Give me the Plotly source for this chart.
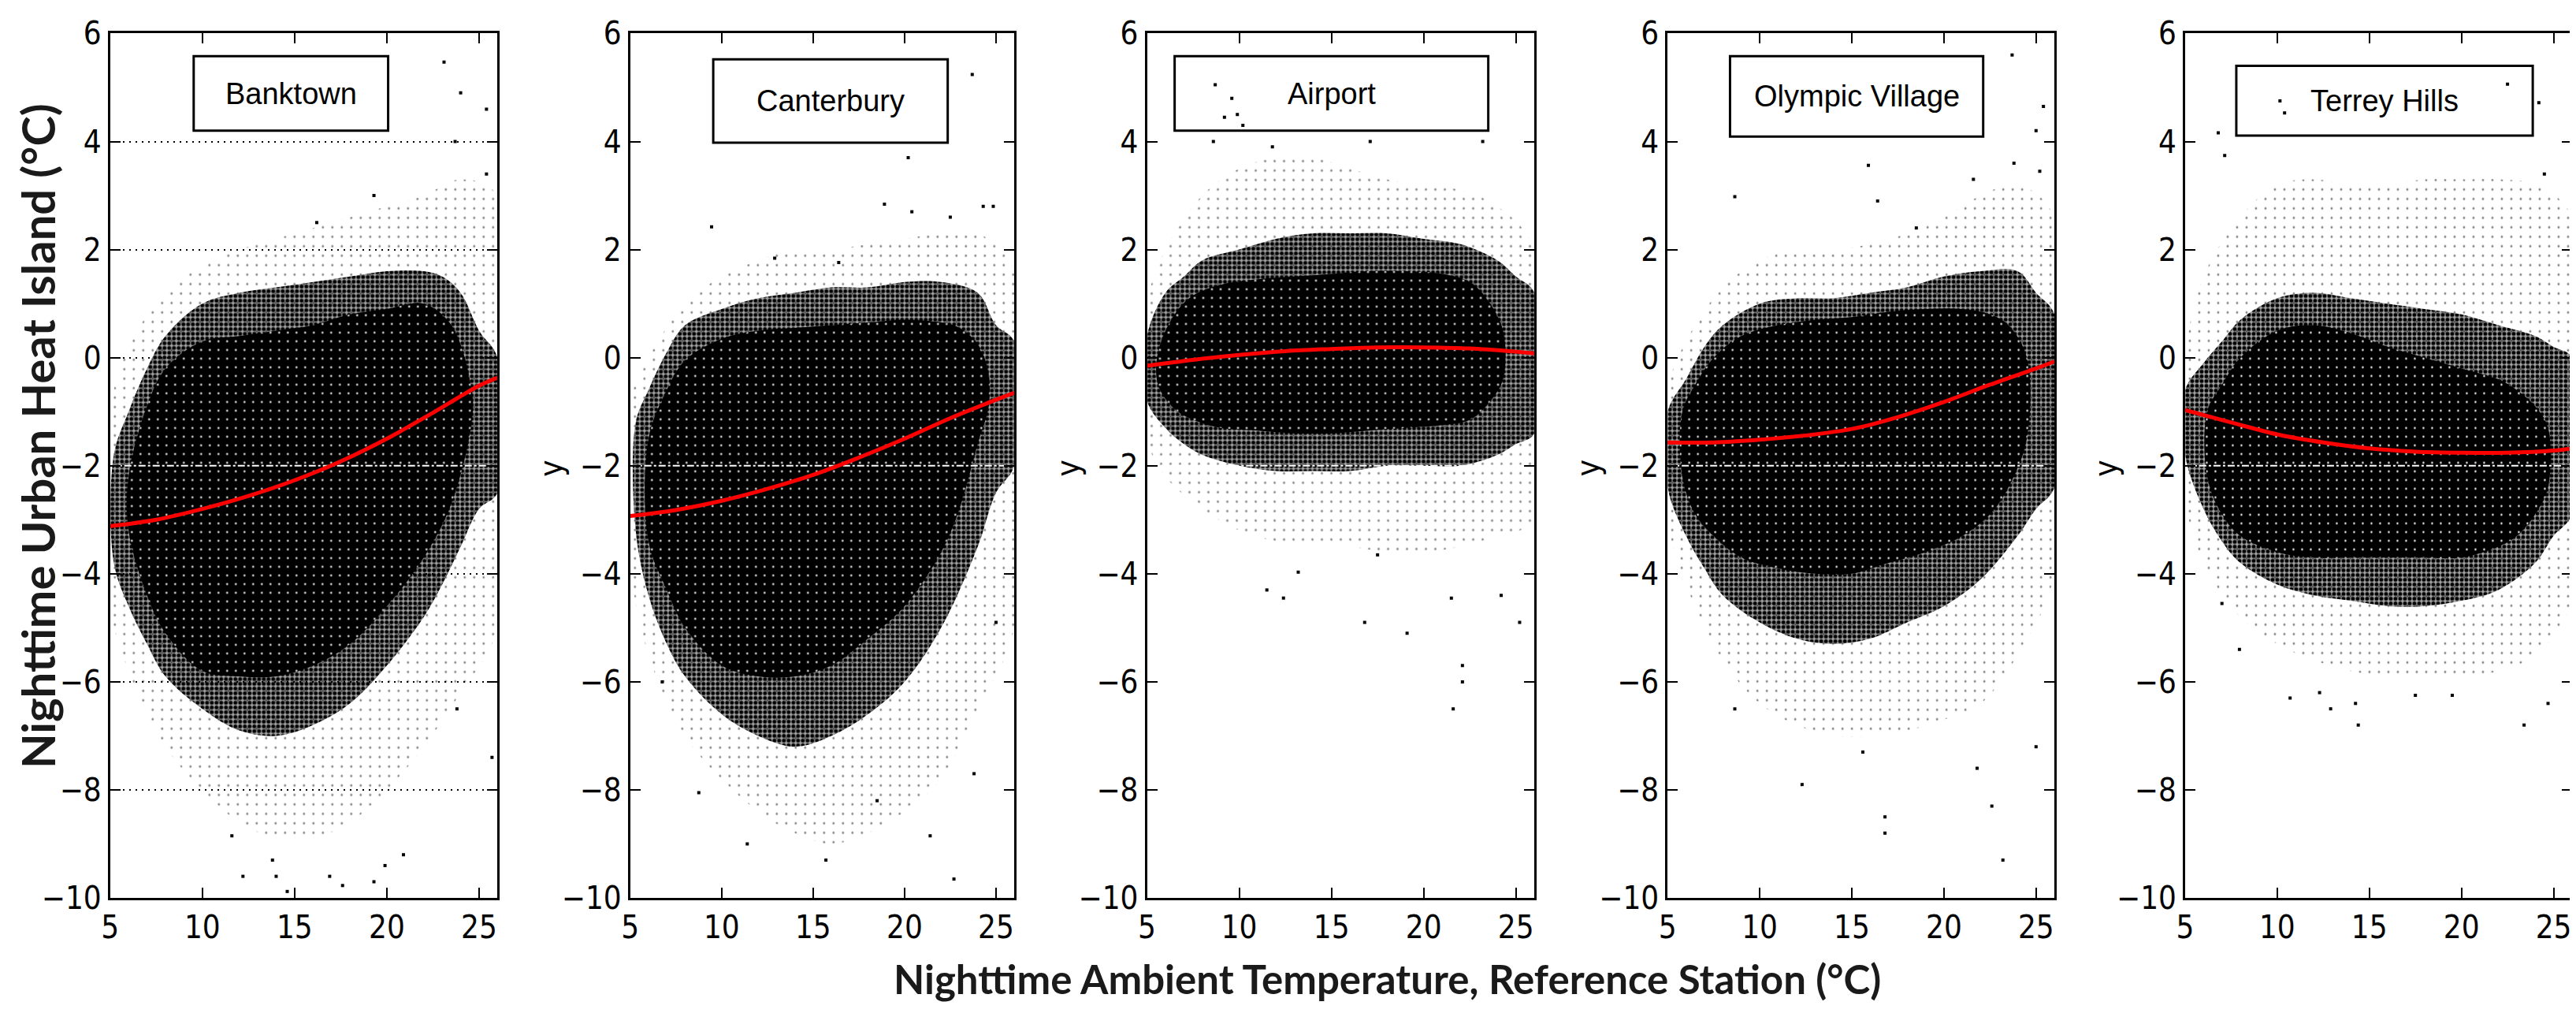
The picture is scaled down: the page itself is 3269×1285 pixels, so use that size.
import plotly.graph_objects as go
from plotly.subplots import make_subplots

stations = ["Banktown", "Canterbury", "Airport", "Olympic Village", "Terrey Hills"]

# red fitted curve, read at these temperatures
fit_x = [5, 7.5, 10, 12.5, 15, 17.5, 20, 22.5, 25, 26]
fit_banktown = [-3.12, -3.0, -2.8, -2.56, -2.27, -1.92, -1.5, -1.02, -0.52, -0.37]
fit_canterbury = [-2.93, -2.82, -2.65, -2.43, -2.17, -1.85, -1.5, -1.12, -0.78, -0.65]
fit_airport = [-0.15, -0.04, 0.05, 0.12, 0.16, 0.19, 0.19, 0.17, 0.11, 0.08]
fit_olympic = [-1.57, -1.57, -1.52, -1.44, -1.32, -1.1, -0.82, -0.5, -0.2, -0.07]
fit_terrey = [-0.97, -1.2, -1.42, -1.57, -1.68, -1.74, -1.76, -1.76, -1.72, -1.68]

# point clouds, read off the picture as upper / lower edges
# core = solid black, mid = speckled fringe, outer = scattered points

# Banktown
core_x_banktown = [6.0, 7, 8, 10, 12, 14, 16, 18, 20, 22, 23.5, 24.6]
core_hi_banktown = [-2.2, -0.9, -0.2, 0.3, 0.4, 0.5, 0.6, 0.8, 0.9, 1.0, 0.6, -0.6]
core_lo_banktown = [-3.2, -4.4, -5.1, -5.8, -5.9, -5.9, -5.7, -5.3, -4.6, -3.7, -2.7, -1.2]
mid_x_banktown = [5.2, 6, 7, 8, 10, 12, 14, 16, 18, 20, 22, 23, 24, 25, 26]
mid_hi_banktown = [-1.8, -1.0, -0.2, 0.4, 1.0, 1.2, 1.3, 1.4, 1.5, 1.6, 1.6, 1.5, 1.2, 0.5, 0.0]
mid_lo_banktown = [-3.8, -4.6, -5.3, -5.9, -6.5, -6.9, -7.0, -6.8, -6.4, -5.7, -4.8, -4.2, -3.5, -2.8, -2.5]
outer_x_banktown = [5.0, 6, 8, 10, 12, 14, 16, 18, 20, 22, 24, 26]
outer_hi_banktown = [-1.0, 0.2, 1.2, 1.7, 2.0, 2.2, 2.4, 2.6, 2.8, 3.0, 3.3, 3.0]
outer_lo_banktown = [-4.6, -5.8, -7.2, -8.0, -8.6, -8.9, -8.9, -8.6, -8.0, -7.2, -6.2, -5.0]
out_x_banktown = [23.1, 24.0, 25.4, 23.7, 25.4, 19.3, 16.2, 14.6, 17.6, 19.3, 14.0, 12.2, 19.9, 16.9, 13.8, 11.6, 20.9, 25.7, 23.8]
out_y_banktown = [5.47, 4.9, 4.6, 4.0, 3.4, 3.0, 2.5, -9.88, -9.77, -9.7, -9.6, -9.6, -9.4, -9.6, -9.3, -8.85, -9.2, -7.4, -6.5]

# Canterbury
core_x_canterbury = [6.0, 7, 8, 10, 12, 14, 16, 18, 20, 22, 23, 24, 24.6]
core_hi_canterbury = [-1.5, -0.6, -0.05, 0.35, 0.5, 0.55, 0.6, 0.65, 0.7, 0.65, 0.55, 0.25, -0.3]
core_lo_canterbury = [-3.4, -4.3, -5.0, -5.7, -5.9, -5.9, -5.7, -5.2, -4.6, -3.6, -2.8, -1.6, -0.9]
mid_x_canterbury = [5.3, 6, 7, 8, 10, 12, 14, 16, 18, 20, 22, 24, 25, 26]
mid_hi_canterbury = [-1.2, -0.6, 0.1, 0.6, 0.9, 1.1, 1.2, 1.3, 1.3, 1.4, 1.4, 1.2, 0.6, 0.3]
mid_lo_canterbury = [-3.2, -4.4, -5.3, -5.9, -6.6, -7.0, -7.2, -7.0, -6.6, -6.0, -5.0, -3.5, -2.5, -2.0]
outer_x_canterbury = [5.0, 6, 8, 10, 12, 14, 16, 18, 20, 22, 24, 26]
outer_hi_canterbury = [-0.8, 0.0, 1.0, 1.5, 1.8, 2.0, 2.0, 2.1, 2.2, 2.3, 2.3, 1.6]
outer_lo_canterbury = [-3.8, -5.5, -7.0, -7.8, -8.4, -8.8, -9.0, -8.8, -8.4, -7.8, -6.5, -5.0]
out_x_canterbury = [23.7, 20.2, 18.9, 9.45, 22.5, 24.3, 24.85, 20.4, 12.9, 16.4, 22.7, 15.7, 11.4, 21.4, 18.5, 8.75, 23.8, 25.0, 6.75]
out_y_canterbury = [5.24, 3.7, 2.84, 2.42, 2.6, 2.8, 2.8, 2.7, 1.84, 1.76, -9.65, -9.3, -9.0, -8.85, -8.2, -8.05, -7.7, -4.9, -6.0]

# Airport
core_x_airport = [5.6, 6.5, 7.5, 9, 11, 13, 15, 17, 19, 21, 22.5, 23.5, 24.3]
core_hi_airport = [0.1, 0.8, 1.15, 1.35, 1.45, 1.5, 1.55, 1.6, 1.6, 1.55, 1.4, 1.05, 0.5]
core_lo_airport = [-0.5, -0.95, -1.15, -1.3, -1.35, -1.4, -1.4, -1.35, -1.3, -1.25, -1.15, -0.85, -0.4]
mid_x_airport = [5.0, 6, 7, 8, 10, 12, 14, 16, 18, 20, 22, 24, 25, 26]
mid_hi_airport = [0.4, 1.2, 1.5, 1.8, 2.0, 2.2, 2.3, 2.3, 2.3, 2.2, 2.1, 1.8, 1.5, 1.2]
mid_lo_airport = [-0.8, -1.3, -1.6, -1.8, -2.0, -2.1, -2.1, -2.1, -2.0, -2.0, -2.0, -1.8, -1.6, -1.4]
outer_x_airport = [5.0, 6, 8, 10, 12, 14, 16, 18, 20, 22, 24, 26]
outer_hi_airport = [1.0, 2.0, 3.0, 3.5, 3.7, 3.7, 3.5, 3.3, 3.2, 3.1, 2.8, 2.0]
outer_lo_airport = [-1.5, -2.2, -2.8, -3.2, -3.4, -3.5, -3.5, -3.6, -3.6, -3.5, -3.3, -3.0]
out_x_airport = [8.7, 9.6, 9.2, 9.9, 10.2, 8.6, 17.1, 23.2, 11.8, 21.5, 25.2, 16.8, 19.1, 22.1, 22.1, 21.6, 12.4, 11.5, 24.2, 13.2, 17.5]
out_y_airport = [5.05, 4.8, 4.45, 4.5, 4.3, 4.0, 4.0, 4.0, 3.9, -4.45, -4.9, -4.9, -5.1, -6.0, -5.7, -6.5, -4.45, -4.3, -4.4, -3.97, -3.65]

# Olympic Village
core_x_olympic = [5.8, 6.5, 7.5, 9, 11, 13, 15, 17, 19, 21, 22.5, 23.5, 24.5]
core_hi_olympic = [-1.0, -0.5, 0.0, 0.4, 0.6, 0.7, 0.75, 0.85, 0.9, 0.9, 0.8, 0.6, 0.0]
core_lo_olympic = [-2.2, -2.9, -3.3, -3.7, -3.9, -4.0, -4.0, -3.8, -3.6, -3.3, -2.9, -2.4, -1.5]
mid_x_olympic = [5.0, 6, 7, 8, 10, 12, 14, 16, 18, 20, 22, 24, 25, 26]
mid_hi_olympic = [-1.0, -0.4, 0.2, 0.6, 1.0, 1.1, 1.1, 1.2, 1.3, 1.5, 1.6, 1.6, 1.2, 0.8]
mid_lo_olympic = [-2.4, -3.3, -3.9, -4.4, -4.9, -5.2, -5.3, -5.2, -4.9, -4.6, -4.1, -3.3, -2.8, -2.4]
outer_x_olympic = [5.0, 6, 8, 10, 12, 14, 16, 18, 20, 22, 24, 26]
outer_hi_olympic = [-0.6, 0.3, 1.3, 1.8, 2.0, 2.0, 2.1, 2.3, 2.6, 3.0, 3.2, 2.6]
outer_lo_olympic = [-3.0, -4.2, -5.6, -6.4, -6.8, -7.0, -7.0, -6.9, -6.7, -6.4, -5.5, -4.0]
out_x_olympic = [8.65, 15.9, 23.8, 25.2, 23.7, 25.4, 25.0, 21.6, 18.5, 16.4, 12.3, 16.8, 16.8, 22.6, 23.2, 21.8, 8.65, 25.0, 15.6]
out_y_olympic = [2.98, 3.56, 3.6, 3.45, 5.6, 4.65, 4.2, 3.3, 2.4, 2.9, -7.9, -8.8, -8.5, -8.3, -9.3, -7.6, -6.5, -7.2, -7.3]

# Terrey Hills
core_x_terrey = [6.2, 7, 8, 10, 12, 14, 16, 18, 20, 22, 23, 24, 24.7]
core_hi_terrey = [-1.0, -0.5, 0.0, 0.5, 0.6, 0.45, 0.2, 0.0, -0.2, -0.4, -0.6, -0.9, -1.3]
core_lo_terrey = [-2.2, -2.9, -3.3, -3.6, -3.7, -3.7, -3.7, -3.7, -3.7, -3.5, -3.3, -2.9, -2.4]
mid_x_terrey = [5.0, 6, 7, 8, 10, 12, 14, 16, 18, 20, 22, 24, 25, 26]
mid_hi_terrey = [-0.6, -0.1, 0.3, 0.7, 1.1, 1.2, 1.1, 1.0, 0.9, 0.8, 0.6, 0.4, 0.2, 0.0]
mid_lo_terrey = [-1.8, -2.8, -3.4, -3.8, -4.2, -4.4, -4.5, -4.6, -4.6, -4.5, -4.3, -3.8, -3.3, -2.9]
outer_x_terrey = [5.0, 6, 8, 10, 12, 14, 16, 18, 20, 22, 24, 26]
outer_hi_terrey = [0.0, 1.5, 2.6, 3.2, 3.3, 3.2, 3.2, 3.3, 3.3, 3.3, 3.2, 2.6]
outer_lo_terrey = [-2.6, -3.8, -4.8, -5.3, -5.6, -5.8, -5.9, -5.9, -5.9, -5.8, -5.5, -4.5]
out_x_terrey = [6.8, 7.15, 10.15, 10.4, 22.5, 24.2, 24.5, 12.9, 14.25, 14.4, 23.4, 24.7, 10.7, 12.3, 7.95, 19.5, 17.5, 7.0]
out_y_terrey = [4.16, 3.74, 4.75, 4.53, 5.06, 4.72, 3.4, -6.5, -6.4, -6.8, -6.8, -6.4, -6.3, -6.2, -5.4, -6.25, -6.25, -4.55]

# white dash-dot reference level
ref_level = -2

fits = [fit_banktown, fit_canterbury, fit_airport, fit_olympic, fit_terrey]
core = [(core_x_banktown, core_hi_banktown, core_lo_banktown),
        (core_x_canterbury, core_hi_canterbury, core_lo_canterbury),
        (core_x_airport, core_hi_airport, core_lo_airport),
        (core_x_olympic, core_hi_olympic, core_lo_olympic),
        (core_x_terrey, core_hi_terrey, core_lo_terrey)]
mid = [(mid_x_banktown, mid_hi_banktown, mid_lo_banktown),
       (mid_x_canterbury, mid_hi_canterbury, mid_lo_canterbury),
       (mid_x_airport, mid_hi_airport, mid_lo_airport),
       (mid_x_olympic, mid_hi_olympic, mid_lo_olympic),
       (mid_x_terrey, mid_hi_terrey, mid_lo_terrey)]
outer = [(outer_x_banktown, outer_hi_banktown, outer_lo_banktown),
         (outer_x_canterbury, outer_hi_canterbury, outer_lo_canterbury),
         (outer_x_airport, outer_hi_airport, outer_lo_airport),
         (outer_x_olympic, outer_hi_olympic, outer_lo_olympic),
         (outer_x_terrey, outer_hi_terrey, outer_lo_terrey)]
outliers = [(out_x_banktown, out_y_banktown), (out_x_canterbury, out_y_canterbury),
            (out_x_airport, out_y_airport), (out_x_olympic, out_y_olympic),
            (out_x_terrey, out_y_terrey)]

# layout: panel positions (paper) and label boxes (data units)
x_domains = [[0.0403, 0.1907], [0.2422, 0.3913], [0.4428, 0.5932], [0.6449, 0.7951], [0.8458, 0.9960]]
y_domain = [0.1198, 0.9732]
box_x0 = [9.53, 9.54, 6.5, 8.39, 7.78]
box_x1 = [20.07, 22.36, 23.5, 22.13, 23.87]
box_y0 = [4.20, 3.98, 4.20, 4.09, 4.11]
box_y1 = [5.58, 5.52, 5.58, 5.58, 5.40]

TICK_FONT = dict(family="Liberation Sans Narrow, DejaVu Sans Condensed, Liberation Sans, sans-serif",
                 size=40, color="black")
BOX_FONT = dict(family="Liberation Sans, Arial, sans-serif", size=38, color="black")
TITLE_FONT = dict(family="Lato, Open Sans, sans-serif", color="#1a1a1a")


def band(xs, hi, lo):
    # closed outline: along the top edge, back along the bottom edge
    return list(xs) + list(xs)[::-1] + [xs[0]], list(hi) + list(lo)[::-1] + [hi[0]]


fig = make_subplots(rows=1, cols=5)

for i in range(5):
    c = i + 1

    bx, by = band(*outer[i])
    fig.add_trace(go.Scatter(
        x=bx, y=by, mode="lines", fill="toself", line=dict(width=0, shape="spline"),
        fillcolor="rgba(0,0,0,0)",
        fillpattern=dict(shape=".", size=12, solidity=0.045, fgcolor="black",
                         bgcolor="rgba(0,0,0,0)", fillmode="overlay"),
        hoverinfo="skip"), row=1, col=c)

    bx, by = band(*mid[i])
    fig.add_trace(go.Scatter(
        x=bx, y=by, mode="lines", fill="toself", line=dict(width=0, shape="spline"),
        fillcolor="rgba(0,0,0,0)",
        fillpattern=dict(shape=".", size=6, solidity=0.55, fgcolor="black",
                         bgcolor="rgba(0,0,0,0.35)", fillmode="replace"),
        hoverinfo="skip"), row=1, col=c)

    bx, by = band(*core[i])
    fig.add_trace(go.Scatter(
        x=bx, y=by, mode="lines", fill="toself", line=dict(width=0, shape="spline"),
        fillcolor="black",
        fillpattern=dict(shape=".", size=11, solidity=0.04, fgcolor="white",
                         bgcolor="black", fillmode="replace"),
        hoverinfo="skip"), row=1, col=c)

    fig.add_trace(go.Scatter(
        x=outliers[i][0], y=outliers[i][1], mode="markers",
        marker=dict(symbol="square", size=4, color="black", line=dict(width=0))),
        row=1, col=c)

    fig.add_trace(go.Scatter(
        x=[5, 26], y=[ref_level, ref_level], mode="lines",
        line=dict(color="white", width=2, dash="dashdot")), row=1, col=c)

    fig.add_trace(go.Scatter(
        x=fit_x, y=fits[i], mode="lines",
        line=dict(color="#ff0000", width=5, shape="spline")), row=1, col=c)

    fig.update_xaxes(
        domain=x_domains[i], range=[5, 26], tickvals=[5, 10, 15, 20, 25],
        ticks="inside", ticklen=13, tickwidth=2, tickcolor="black",
        showline=True, linewidth=3, linecolor="black", mirror="ticks",
        showgrid=False, zeroline=False, tickfont=TICK_FONT, automargin=False,
        row=1, col=c)
    fig.update_yaxes(
        domain=y_domain, range=[-10, 6], tickvals=list(range(-10, 7, 2)),
        ticks="inside", ticklen=13, tickwidth=2, tickcolor="black",
        showline=True, linewidth=3, linecolor="black", mirror="ticks",
        showgrid=(i == 0), gridcolor="black", gridwidth=2, griddash="2px,6px",
        zeroline=False, tickfont=TICK_FONT, automargin=False, row=1, col=c)

    xr = "x" if i == 0 else "x%d" % c
    yr = "y" if i == 0 else "y%d" % c
    fig.add_shape(type="rect", xref=xr, yref=yr, x0=box_x0[i], x1=box_x1[i],
                  y0=box_y0[i], y1=box_y1[i], line=dict(color="black", width=3),
                  fillcolor="white", layer="below")
    fig.add_annotation(xref=xr, yref=yr, x=(box_x0[i] + box_x1[i]) / 2,
                       y=(box_y0[i] + box_y1[i]) / 2, text=stations[i],
                       xanchor="center", yanchor="middle",
                       showarrow=False, font=BOX_FONT)

    if i > 0:
        fig.add_annotation(xref="paper", yref="paper", x=x_domains[i][0] - 0.0309, y=0.544,
                           text="y", textangle=-90, xanchor="center", yanchor="middle",
                           showarrow=False, font=TICK_FONT)

fig.add_annotation(xref="paper", yref="paper", x=0.0123, y=0.576,
                   text="<b>Nighttime Urban Heat Island (°C)</b>", textangle=-90,
                   xanchor="center", yanchor="middle",
                   showarrow=False, font=dict(TITLE_FONT, size=58))
fig.add_annotation(xref="paper", yref="paper", x=0.536, y=0.0397,
                   text="<b>Nighttime Ambient Temperature, Reference Station (°C)</b>",
                   xanchor="center", yanchor="middle",
                   showarrow=False, font=dict(TITLE_FONT, size=51))

fig.update_layout(
    width=3269, height=1285,
    margin=dict(l=0, r=0, t=0, b=0, autoexpand=False),
    showlegend=False,
    plot_bgcolor="white", paper_bgcolor="white",
)

fig.write_html("out.html")
